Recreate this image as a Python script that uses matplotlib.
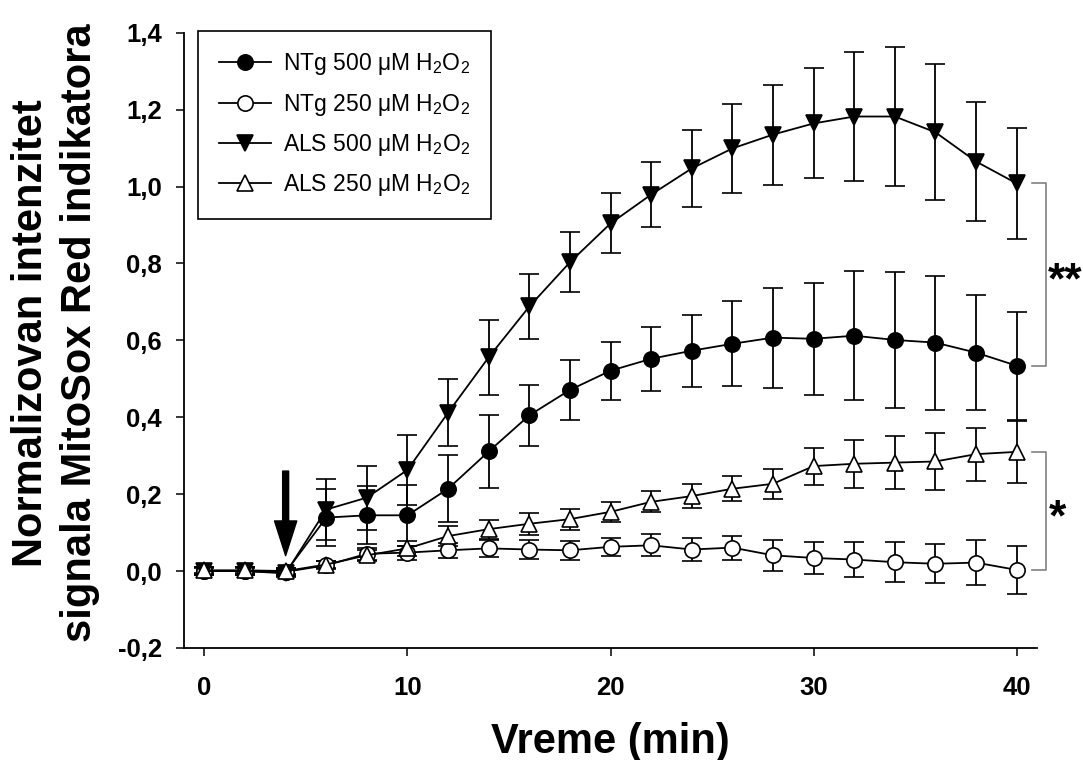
import numpy as np
from matplotlib import pyplot as plt

plt.rcParams['font.family'] = ['Liberation Sans', 'DejaVu Sans']
plt.rcParams['mathtext.default'] = 'regular'

# vreme (min)
time = [0, 2, 4, 6, 8, 10, 12, 14, 16, 18, 20, 22, 24, 26, 28, 30, 32, 34, 36, 38, 40]

ntg500 = [0.0, 0.0, -0.003, 0.139, 0.145, 0.145, 0.214, 0.311, 0.405, 0.471, 0.521,
          0.552, 0.573, 0.591, 0.607, 0.604, 0.612, 0.601, 0.594, 0.568, 0.534]
ntg500_err = [0.01, 0.01, 0.01, 0.074, 0.075, 0.08, 0.087, 0.096, 0.08, 0.078, 0.075,
              0.083, 0.094, 0.11, 0.13, 0.146, 0.167, 0.177, 0.174, 0.15, 0.14]

ntg250 = [0.0, 0.0, -0.002, 0.015, 0.045, 0.048, 0.054, 0.059, 0.056, 0.054, 0.063,
          0.067, 0.056, 0.061, 0.041, 0.034, 0.030, 0.023, 0.019, 0.022, 0.003]
ntg250_err = [0.008, 0.008, 0.008, 0.01, 0.015, 0.018, 0.02, 0.022, 0.025, 0.024, 0.023,
              0.029, 0.03, 0.031, 0.04, 0.042, 0.045, 0.052, 0.051, 0.058, 0.062]

als500 = [0.0, 0.0, -0.006, 0.16, 0.191, 0.263, 0.412, 0.556, 0.688, 0.803, 0.904,
          0.979, 1.047, 1.099, 1.135, 1.164, 1.182, 1.182, 1.141, 1.065, 1.008]
als500_err = [0.01, 0.01, 0.01, 0.08, 0.083, 0.09, 0.088, 0.097, 0.085, 0.078, 0.078,
              0.085, 0.1, 0.115, 0.13, 0.143, 0.167, 0.18, 0.177, 0.156, 0.145]

als250 = [0.002, 0.002, 0.0, 0.017, 0.041, 0.059, 0.091, 0.109, 0.123, 0.135, 0.154,
          0.18, 0.195, 0.214, 0.227, 0.273, 0.279, 0.282, 0.285, 0.304, 0.31]
als250_err = [0.008, 0.008, 0.008, 0.01, 0.015, 0.02, 0.025, 0.025, 0.028, 0.027, 0.026,
              0.027, 0.031, 0.033, 0.039, 0.048, 0.063, 0.069, 0.073, 0.069, 0.08]

labels = [r'NTg 500 $\mu$M H$_2$O$_2$', r'NTg 250 $\mu$M H$_2$O$_2$',
          r'ALS 500 $\mu$M H$_2$O$_2$', r'ALS 250 $\mu$M H$_2$O$_2$']

yticks = [-0.2, 0.0, 0.2, 0.4, 0.6, 0.8, 1.0, 1.2, 1.4]
ytick_labels = ['-0,2', '0,0', '0,2', '0,4', '0,6', '0,8', '1,0', '1,2', '1,4']
xticks = [0, 10, 20, 30, 40]

fig = plt.figure(figsize=(10.83, 7.6), dpi=100)
ax = fig.add_axes([0.170, 0.1474, 0.7875, 0.8096])

series = [
    (ntg500, ntg500_err, 'o', 'black'),
    (ntg250, ntg250_err, 'o', 'white'),
    (als500, als500_err, 'v', 'black'),
    (als250, als250_err, '^', 'white'),
]
handles = []
for vals, err, mk, fill in series:
    eb = ax.errorbar(time, vals, yerr=err, fmt='-' + mk, color='black', mfc=fill, mec='black',
                     ms=11, mew=1.2, lw=1.3, elinewidth=1.3, capsize=7, capthick=1.3)
    handles.append(eb[0])

ax.set_xlim(-1, 41)
ax.set_ylim(-0.2, 1.4)
ax.set_xticks(xticks)
ax.set_yticks(yticks)
ax.set_yticklabels(ytick_labels)

for side in ['top', 'right']:
    ax.spines[side].set_visible(False)
for side in ['left', 'bottom']:
    ax.spines[side].set_linewidth(1.3)
ax.tick_params(axis='both', direction='out', length=6, width=1.1, labelsize=18.5)
ax.tick_params(axis='x', pad=14)
ax.tick_params(axis='y', pad=10)
for lab in ax.get_xticklabels() + ax.get_yticklabels():
    lab.set_fontweight('bold')

ax.set_xlabel('Vreme (min)', fontsize=30, fontweight='bold', va='center')
ax.xaxis.set_label_coords(0.5, -0.152)
ax.set_ylabel('Normalizovan intenzitet\nsignala MitoSox Red indikatora',
              fontsize=30, fontweight='bold', va='center', linespacing=1.27)
ax.yaxis.set_label_coords(-0.151, 0.512)

leg = ax.legend(handles, labels, loc='upper left', bbox_to_anchor=(0.0164, 1.003),
                borderaxespad=0, fontsize=16.5, handlelength=2.3, handletextpad=0.5,
                borderpad=0.9, labelspacing=0.62, fancybox=False, framealpha=1)
leg.get_frame().set_edgecolor('black')
leg.get_frame().set_linewidth(1.2)

# strelica: dodavanje H2O2
ax.annotate('', xy=(4, 0.04), xytext=(4, 0.26),
            arrowprops=dict(width=4.3, headwidth=16, headlength=25, color='black', shrink=0))

# zagrade za statisticku znacajnost
bx0, bx1 = 40.77, 41.46
ax.plot([bx0, bx1, bx1, bx0], [als500[-1], als500[-1], ntg500[-1], ntg500[-1]],
        color='#808080', lw=1.2, clip_on=False)
ax.plot([bx0, bx1, bx1, bx0], [als250[-1], als250[-1], ntg250[-1], ntg250[-1]],
        color='#808080', lw=1.2, clip_on=False)
ax.text(41.55, (als500[-1] + ntg500[-1]) / 2 - 0.02, '**', fontsize=32, fontweight='bold',
        ha='left', va='center', clip_on=False)
ax.text(41.6, (als250[-1] + ntg250[-1]) / 2 - 0.02, '*', fontsize=32, fontweight='bold',
        ha='left', va='center', clip_on=False)

plt.savefig('out.png', dpi=100)
